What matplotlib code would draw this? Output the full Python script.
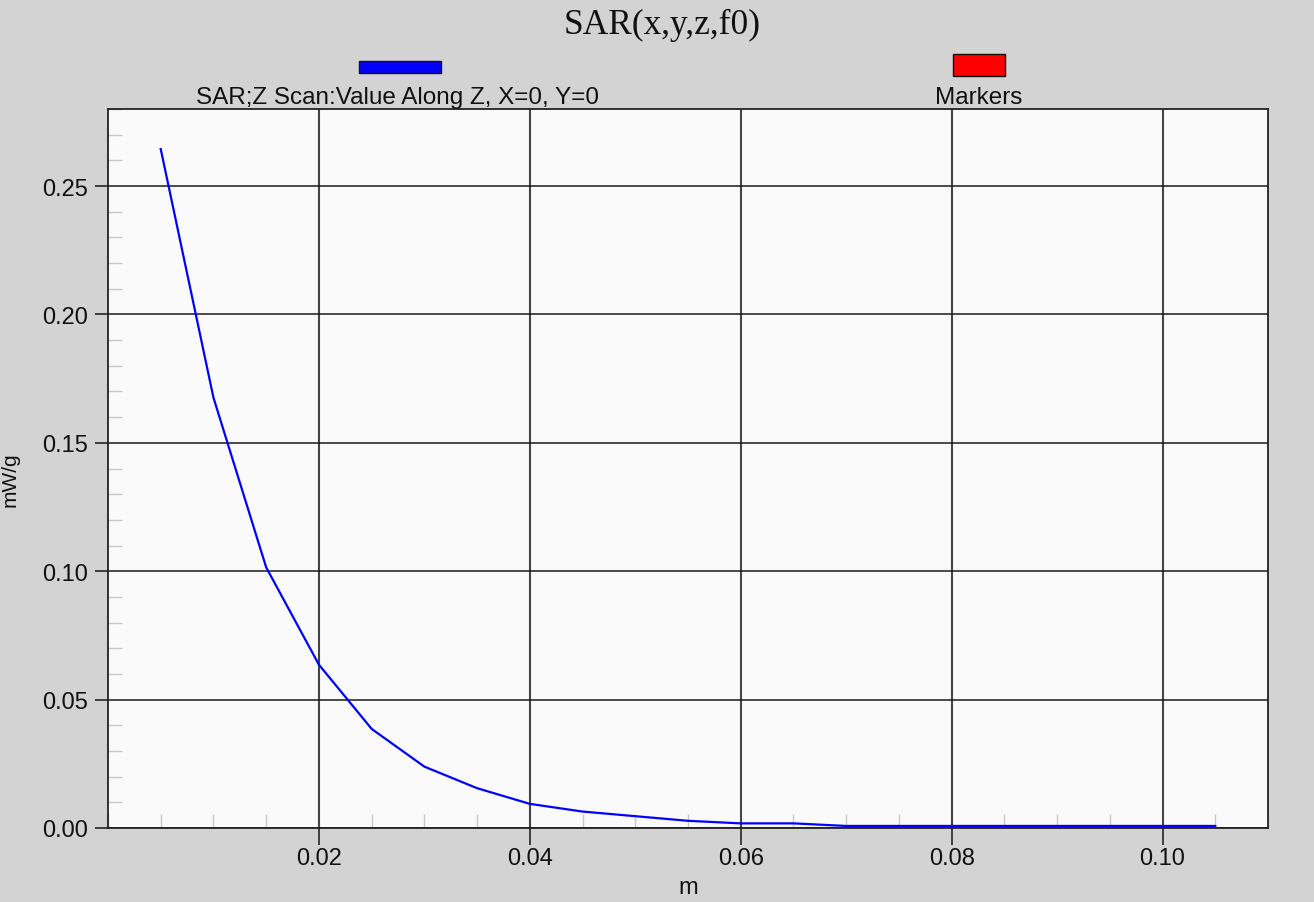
import matplotlib
matplotlib.use("Agg")
import matplotlib.pyplot as plt
from matplotlib.patches import Rectangle
from matplotlib.ticker import MultipleLocator, FormatStrFormatter

# SAR along Z scan (m -> mW/g)
z_m = [0.005, 0.010, 0.015, 0.020, 0.025, 0.030, 0.035, 0.040, 0.045, 0.050,
       0.055, 0.060, 0.065, 0.070, 0.075, 0.080, 0.085, 0.090, 0.095, 0.100,
       0.105]
sar = [0.2644, 0.1676, 0.1015, 0.0636, 0.0386, 0.0239, 0.0155, 0.0094, 0.0064,
       0.0046, 0.0028, 0.0018, 0.0018, 0.0008, 0.0008, 0.0008, 0.0008, 0.0008,
       0.0008, 0.0008, 0.0008]
x_ticks = [0.02, 0.04, 0.06, 0.08, 0.10]
title = "SAR(x,y,z,f0)"
series_label = "SAR;Z Scan:Value Along Z, X=0, Y=0"
marker_label = "Markers"

W, H = 1314, 903
BG = "#d3d3d3"
plt.rcParams["font.family"] = ["Liberation Sans", "DejaVu Sans"]

fig = plt.figure(figsize=(W / 100, H / 100), dpi=100, facecolor=BG)
ax = fig.add_axes([108 / W, (H - 829) / H, (1268 - 108) / W, (829 - 110) / H])
ax.set_facecolor("#fafafa")

ax.plot(z_m, sar, color="#0000ff", lw=1.6, zorder=3)

ax.set_xlim(0, 0.11)
ax.set_ylim(0, 0.28)
ax.set_xticks(x_ticks)
ax.xaxis.set_minor_locator(MultipleLocator(0.005))
ax.yaxis.set_major_locator(MultipleLocator(0.05))
ax.yaxis.set_minor_locator(MultipleLocator(0.01))
ax.xaxis.set_major_formatter(FormatStrFormatter("%.2f"))
ax.yaxis.set_major_formatter(FormatStrFormatter("%.2f"))

ax.grid(which="major", axis="y", color="#1a1a1a", lw=1.1)
ax.grid(which="major", axis="x", color="#444444", lw=1.5)
ax.tick_params(which="major", direction="out", length=12, width=1.3,
               color="#333333", labelsize=17, labelcolor="#111111")
ax.tick_params(axis="y", which="major", length=9.5, pad=5)
ax.tick_params(axis="x", which="major", pad=1.5)
ax.tick_params(which="minor", direction="in", length=10, width=1.0,
               color="#c8c8c8")
for s in ax.spines.values():
    s.set_color("#222222")
    s.set_linewidth(1.3)

ax.set_xlabel("m", fontsize=17, labelpad=5, color="#111111")
ax.set_ylabel("mW/g", fontsize=15, color="#111111")
ax.yaxis.set_label_coords((20 - 108) / 1160, (829 - 480) / 719)

fig.text(662 / W, 1 - 25 / H, title, ha="center", va="center",
         fontsize=25.5, family="Liberation Serif", color="#111111")

# legend swatches
fig.patches.append(Rectangle((359 / W, 1 - 74 / H), 82 / W, 12 / H,
                             transform=fig.transFigure, facecolor="#0000ff",
                             edgecolor="#111111", lw=1))
fig.patches.append(Rectangle((953 / W, 1 - 77 / H), 52 / W, 22 / H,
                             transform=fig.transFigure, facecolor="#ff0000",
                             edgecolor="#111111", lw=1))
fig.text(398 / W, 1 - 98 / H, series_label, ha="center", va="center",
         fontsize=17.5, color="#111111")
fig.text(979 / W, 1 - 98 / H, marker_label, ha="center", va="center",
         fontsize=17.5, color="#111111")

fig.savefig("out.png", dpi=100, facecolor=BG)
